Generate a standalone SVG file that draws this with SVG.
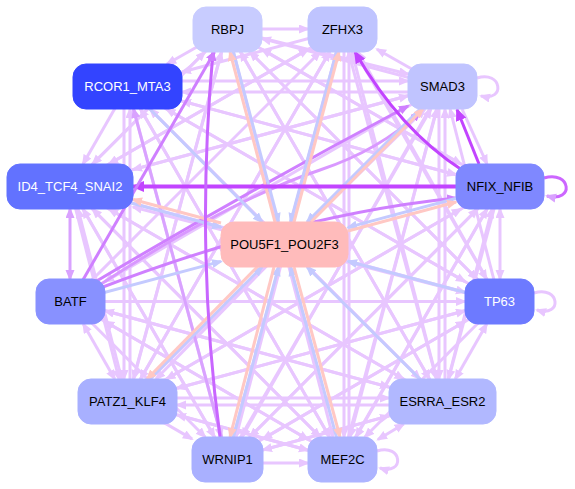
<svg xmlns="http://www.w3.org/2000/svg" width="575" height="489" viewBox="0 0 575 489">
<defs>
<marker id="ap" markerUnits="userSpaceOnUse" markerWidth="12" markerHeight="10" refX="9" refY="4.5" orient="auto-start-reverse"><path d="M0,0 L11,4.5 L0,9 z" fill="#e8c6ff"/></marker>
<marker id="am" markerUnits="userSpaceOnUse" markerWidth="12" markerHeight="10" refX="9" refY="4.5" orient="auto-start-reverse"><path d="M0,0 L11,4.5 L0,9 z" fill="#d9a2ff"/></marker>
<marker id="ak" markerUnits="userSpaceOnUse" markerWidth="12" markerHeight="10" refX="9" refY="4.5" orient="auto"><path d="M0,0 L11,4.5 L0,9 z" fill="#cf80ff"/></marker>
<marker id="ad" markerUnits="userSpaceOnUse" markerWidth="14" markerHeight="12" refX="11" refY="5.5" orient="auto-start-reverse"><path d="M0,0 L13,5.5 L0,11 z" fill="#c244ff"/></marker>
<marker id="ab" markerUnits="userSpaceOnUse" markerWidth="12" markerHeight="10" refX="9" refY="4.5" orient="auto"><path d="M0,0 L11,4.5 L0,9 z" fill="#c4caff"/></marker>
<marker id="as" markerUnits="userSpaceOnUse" markerWidth="12" markerHeight="10" refX="9" refY="4.5" orient="auto"><path d="M0,0 L11,4.5 L0,9 z" fill="#ffc8c4"/></marker>
</defs>
<style>
.e path{fill:none;stroke-width:3}
.p{stroke:#e8c6ff;marker-end:url(#ap)}
.pp{stroke:#e8c6ff;marker-end:url(#ap);marker-start:url(#ap)}
.m{stroke:#d9a2ff;marker-end:url(#am)}
.mm{stroke:#d9a2ff;marker-end:url(#am);marker-start:url(#am)}
.k{stroke:#cf80ff;marker-end:url(#ak)}
.d{stroke:#c244ff;marker-end:url(#ad)}
.b{stroke:#c4caff;marker-end:url(#ab)}
.s{stroke:#ffc8c4;marker-end:url(#as)}
.n text{font-family:"Liberation Sans",Arial,sans-serif;font-size:13px;text-anchor:middle;dominant-baseline:central}
</style>
<g id="connectors" class="e">
<path class="p" d="M499.5,301.5 L250,52"/>
<path class="p" d="M442.5,401.5 L240.5,52"/>
<path class="p" d="M442.5,86.5 L262,38.6"/>
<path class="p" d="M500,186.5 L262,49.4"/>
<path class="p" d="M70,186.5 L204.9,52"/>
<path class="p" d="M127.5,401.5 L221.5,52"/>
<path class="p" d="M262,29 L308,29"/>
<path class="p" d="M442.5,86.5 L377,49.2"/>
<path class="p" d="M70.5,301.5 L320,52"/>
<path class="p" d="M70,186.5 L308,49.4"/>
<path class="p" d="M127.5,401.5 L329.5,52"/>
<path class="p" d="M227.5,459.5 L336.5,52"/>
<path class="p" d="M349,459.5 L349,52"/>
<path class="p" d="M499.5,301.5 L358,52"/>
<path class="p" d="M442.5,401.5 L352,52"/>
<path class="p" d="M442.5,92 L182,92"/>
<path class="p" d="M500,186.5 L182,101.1"/>
<path class="p" d="M499.5,301.5 L166.4,109"/>
<path class="p" d="M130,401.5 L130,109"/>
<path class="p" d="M342.5,459.5 L140.5,109"/>
<path class="p" d="M442.5,401.5 L150,109"/>
<path class="p" d="M342.5,29.5 L182,72"/>
<path class="p" d="M227.5,29.5 L167,64"/>
<path class="p" d="M127.5,81 L408,81"/>
<path class="p" d="M227.5,29.5 L408,74"/>
<path class="p" d="M70,186.5 L408,95.8"/>
<path class="p" d="M127.5,401.5 L425,109"/>
<path class="p" d="M227.5,459.5 L431,109"/>
<path class="p" d="M342.5,459.5 L437,109"/>
<path class="p" d="M445,401.5 L445,109"/>
<path class="p" d="M499.5,301.5 L450,109"/>
<path class="p" d="M462,109 L487,164"/>
<path class="p" d="M127.5,86.5 L83,164"/>
<path class="p" d="M442.5,86.5 L133,169.6"/>
<path class="p" d="M499.5,301.5 L133,207"/>
<path class="p" d="M442.5,401.5 L109,209"/>
<path class="p" d="M342.5,459.5 L92.5,209"/>
<path class="p" d="M227.5,459.5 L83,209"/>
<path class="p" d="M127.5,401.5 L78,209"/>
<path class="p" d="M227.5,29.5 L92.6,164"/>
<path class="p" d="M342.5,29.5 L109,164"/>
<path class="p" d="M227.5,29.5 L461,164"/>
<path class="p" d="M127.5,86.5 L456,174.7"/>
<path class="p" d="M127.5,401.5 L461,209"/>
<path class="p" d="M227.5,459.5 L477.5,209"/>
<path class="p" d="M342.5,459.5 L487,209"/>
<path class="p" d="M442.5,401.5 L492,209"/>
<path class="p" d="M442.5,401.5 L105,310.8"/>
<path class="p" d="M342.5,459.5 L105,321.5"/>
<path class="p" d="M442.5,86.5 L105,281.6"/>
<path class="p" d="M70.5,301.5 L465,301.5"/>
<path class="p" d="M70,186.5 L465,292.3"/>
<path class="p" d="M127.5,86.5 L465,281.6"/>
<path class="p" d="M127.5,401.5 L465,310.8"/>
<path class="p" d="M227.5,459.5 L465,321.5"/>
<path class="p" d="M227.5,29.5 L477,279"/>
<path class="p" d="M342.5,29.5 L486.5,279"/>
<path class="p" d="M124,86.5 L124,379"/>
<path class="p" d="M227.5,29.5 L133.5,379"/>
<path class="p" d="M342.5,29.5 L140.5,379"/>
<path class="p" d="M442.5,86.5 L156,379"/>
<path class="p" d="M500,186.5 L166.5,379"/>
<path class="p" d="M499.5,301.5 L177,388.2"/>
<path class="p" d="M442.5,405 L177,405"/>
<path class="p" d="M342.5,459.5 L177,414.9"/>
<path class="p" d="M70,186.5 L119,379"/>
<path class="p" d="M227.5,29.5 L429.5,379"/>
<path class="p" d="M342.5,29.5 L436.5,379"/>
<path class="p" d="M439,86.5 L439,379"/>
<path class="p" d="M500,186.5 L448.5,379"/>
<path class="p" d="M127.5,86.5 L420,379"/>
<path class="p" d="M70,186.5 L403.5,379"/>
<path class="p" d="M70.5,301.5 L389,387.1"/>
<path class="p" d="M127.5,398 L389,398"/>
<path class="p" d="M227.5,459.5 L389,415.9"/>
<path class="p" d="M127.5,401.5 L192,438.9"/>
<path class="p" d="M127.5,86.5 L221.5,437"/>
<path class="p" d="M70,186.5 L214.5,437"/>
<path class="p" d="M70.5,301.5 L205.1,437"/>
<path class="p" d="M342.5,29.5 L236,437"/>
<path class="p" d="M442.5,86.5 L242,437"/>
<path class="p" d="M500,186.5 L250,437"/>
<path class="p" d="M499.5,301.5 L263,438.9"/>
<path class="p" d="M442.5,401.5 L263,449.9"/>
<path class="p" d="M263,463 L308,463"/>
<path class="p" d="M344,29.5 L344,437"/>
<path class="p" d="M127.5,86.5 L329.5,437"/>
<path class="p" d="M70,186.5 L320,437"/>
<path class="p" d="M70.5,301.5 L308,439.5"/>
<path class="p" d="M127.5,401.5 L308,450.2"/>
<path class="p" d="M442.5,86.5 L350,437"/>
<path class="p" d="M500,186.5 L356,437"/>
<path class="p" d="M499.5,301.5 L364.9,437"/>
<path class="p" d="M227.5,29.5 L333,437"/>
<path class="pp" d="M83.3,324 L114.7,379"/>
<path class="pp" d="M486.7,324 L455.3,379"/>
<path class="pp" d="M403.7,424 L378,439.5"/>
<path class="pp" d="M500,209 L500,279"/>
<path class="p" d="M477,78 C502,70 506,102 481,96"/>
<path class="p" d="M534,293 C560,285 563,318 537,310"/>
<path class="p" d="M377,451 C403,443 405,476 380,468"/>
<path class="mm" d="M70,209 L70,279"/>
<path class="m" d="M227.5,459.5 L133.5,109"/>
<path class="k" d="M95,290 Q290,215 456,198"/>
<path class="k" d="M95,282 Q250,190 408,106"/>
<path class="k" d="M98,286 Q230,200 320,170 Q380,150 420,112" style="stroke:#d998ff"/>
<path class="b" d="M227.5,29.5 L278.5,222"/>
<path class="b" d="M342.5,29.5 L290.6,222"/>
<path class="b" d="M127.5,86.5 L262.1,222"/>
<path class="b" d="M442.5,86.5 L307,222"/>
<path class="b" d="M70,186.5 L221,227.3"/>
<path class="b" d="M500,186.5 L348,227.4"/>
<path class="b" d="M70.5,301.5 L221,261.4"/>
<path class="b" d="M499.5,301.5 L348,261.3"/>
<path class="b" d="M127.5,401.5 L262,267"/>
<path class="b" d="M442.5,401.5 L307.1,267"/>
<path class="b" d="M227.5,459.5 L278.5,267"/>
<path class="b" d="M342.5,459.5 L290.6,267"/>
<path class="s" d="M275,222 L230,52"/>
<path class="s" d="M294,222 L339,52"/>
<path class="s" d="M311,222 L423,109"/>
<path class="s" d="M348,231 L456,202"/>
<path class="s" d="M221,223 L133,199.5"/>
<path class="s" d="M258,266 L147,379"/>
<path class="s" d="M274,267 L230,437"/>
<path class="s" d="M294,267 L340,437"/>
<path class="m" d="M544,178 C571,170 575,203 547,196" style="stroke:#cc66ff"/>
<path class="d" d="M456,186.5 L133,186.5" style="stroke-width:4"/>
<path class="d" d="M479,164 L457,109.5"/>
<path class="d" d="M462,170 Q400,130 355,52"/>
<path class="k" d="M70.5,301.5 L214.5,52"/>
<path class="k" d="M220,437 Q195,250 213,52" style="stroke:#c866ff"/>
</g>
<g id="RBPJ" class="n"><rect x="193" y="7" width="69" height="45" rx="13" fill="#c8ccff" stroke="#c8ccff"/><text x="227.5" y="29.5">RBPJ</text></g>
<g id="ZFHX3" class="n"><rect x="308" y="7" width="69" height="45" rx="13" fill="#bfc4ff" stroke="#bfc4ff"/><text x="342.5" y="29.5">ZFHX3</text></g>
<g id="RCOR1_MTA3" class="n"><rect x="73" y="64" width="109" height="45" rx="13" fill="#3344ff" stroke="#3344ff"/><text x="127.5" y="86.5" fill="#ffffff">RCOR1_MTA3</text></g>
<g id="SMAD3" class="n"><rect x="408" y="64" width="69" height="45" rx="13" fill="#c0c4ff" stroke="#c0c4ff"/><text x="442.5" y="86.5">SMAD3</text></g>
<g id="ID4_TCF4_SNAI2" class="n"><rect x="7" y="164" width="126" height="45" rx="13" fill="#6272ff" stroke="#6272ff"/><text x="70" y="186.5" fill="#ffffff">ID4_TCF4_SNAI2</text></g>
<g id="NFIX_NFIB" class="n"><rect x="456" y="164" width="88" height="45" rx="13" fill="#7f88ff" stroke="#7f88ff"/><text x="500" y="186.5">NFIX_NFIB</text></g>
<g id="POU5F1_POU2F3" class="n"><rect x="221" y="222" width="127" height="45" rx="13" fill="#ffbbbb" stroke="#ffbbbb"/><text x="284.5" y="244.5">POU5F1_POU2F3</text></g>
<g id="BATF" class="n"><rect x="36" y="279" width="69" height="45" rx="13" fill="#8891ff" stroke="#8891ff"/><text x="70.5" y="301.5">BATF</text></g>
<g id="TP63" class="n"><rect x="465" y="279" width="69" height="45" rx="13" fill="#6d7aff" stroke="#6d7aff"/><text x="499.5" y="301.5" fill="#ffffff">TP63</text></g>
<g id="PATZ1_KLF4" class="n"><rect x="78" y="379" width="99" height="45" rx="13" fill="#a8b0ff" stroke="#a8b0ff"/><text x="127.5" y="401.5">PATZ1_KLF4</text></g>
<g id="ESRRA_ESR2" class="n"><rect x="389" y="379" width="107" height="45" rx="13" fill="#b1b8ff" stroke="#b1b8ff"/><text x="442.5" y="401.5">ESRRA_ESR2</text></g>
<g id="WRNIP1" class="n"><rect x="192" y="437" width="71" height="45" rx="13" fill="#a9b0ff" stroke="#a9b0ff"/><text x="227.5" y="459.5">WRNIP1</text></g>
<g id="MEF2C" class="n"><rect x="308" y="437" width="69" height="45" rx="13" fill="#adb4ff" stroke="#adb4ff"/><text x="342.5" y="459.5">MEF2C</text></g>
</svg>
